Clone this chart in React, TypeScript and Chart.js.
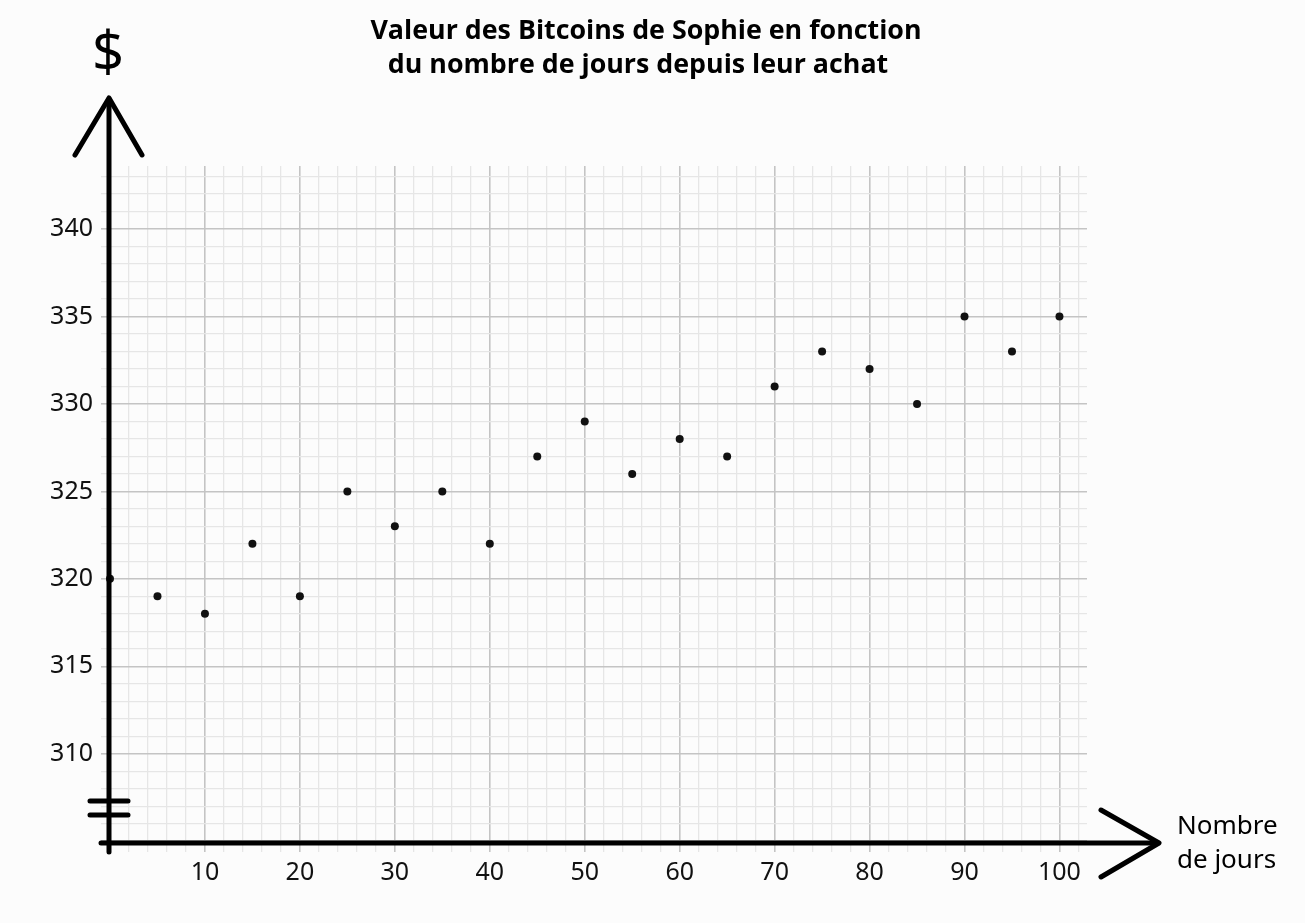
import React, { useEffect, useRef } from "react";
import { Chart, registerables } from "chart.js";

Chart.register(...registerables);

const days = [0, 5, 10, 15, 20, 25, 30, 35, 40, 45, 50, 55, 60, 65, 70, 75, 80, 85, 90, 95, 100];
const values = [320, 319, 318, 322, 319, 325, 323, 325, 322, 327, 329, 326, 328, 327, 331, 333, 332, 330, 335, 333, 335];
const xTickValues = [0, 2, 4, 6, 8, 10, 12, 14, 16, 18, 20, 22, 24, 26, 28, 30, 32, 34, 36, 38, 40, 42, 44, 46, 48, 50, 52, 54, 56, 58, 60, 62, 64, 66, 68, 70, 72, 74, 76, 78, 80, 82, 84, 86, 88, 90, 92, 94, 96, 98, 100, 102];
const yTickValues = [305, 306, 307, 308, 309, 310, 311, 312, 313, 314, 315, 316, 317, 318, 319, 320, 321, 322, 323, 324, 325, 326, 327, 328, 329, 330, 331, 332, 333, 334, 335, 336, 337, 338, 339, 340, 341, 342, 343];
const xLabelValues = [10, 20, 30, 40, 50, 60, 70, 80, 90, 100];
const yLabelValues = [310, 315, 320, 325, 330, 335, 340];
const titleLines = ["Valeur des Bitcoins de Sophie en fonction", "du nombre de jours depuis leur achat"];
const yAxisTitle = "$";
const xAxisTitleLines = ["Nombre", "de jours"];

const FONT = "'Noto Sans', 'Open Sans', sans-serif";

const decorPlugin = {
  id: "decor",
  beforeDraw(chart: any) {
    const ctx = chart.ctx;
    ctx.save();
    ctx.fillStyle = "#fcfcfc";
    ctx.fillRect(0, 0, chart.width, chart.height);
    ctx.restore();
  },
  afterDraw(chart: any) {
    const ctx = chart.ctx;
    const xs = chart.scales.x;
    const ax = xs.getPixelForValue(0) - 1;
    const ay = chart.chartArea.bottom;
    ctx.save();
    ctx.strokeStyle = "#000";
    ctx.lineCap = "round";
    ctx.lineJoin = "round";
    ctx.lineWidth = 5;
    // y axis
    ctx.beginPath();
    ctx.moveTo(ax, 99);
    ctx.lineTo(ax, ay + 9);
    ctx.stroke();
    // y arrow
    ctx.beginPath();
    ctx.moveTo(ax - 34, 155);
    ctx.lineTo(ax, 98);
    ctx.lineTo(ax + 33, 155);
    ctx.stroke();
    // x axis
    ctx.beginPath();
    ctx.moveTo(ax - 8, ay);
    ctx.lineTo(1158, ay);
    ctx.stroke();
    // x arrow
    ctx.beginPath();
    ctx.moveTo(1101, ay - 33);
    ctx.lineTo(1159, ay);
    ctx.lineTo(1101, ay + 34);
    ctx.stroke();
    // axis break
    ctx.beginPath();
    ctx.moveTo(ax - 19, ay - 42);
    ctx.lineTo(ax + 19, ay - 42);
    ctx.moveTo(ax - 19, ay - 28);
    ctx.lineTo(ax + 19, ay - 28);
    ctx.stroke();

    // texts
    ctx.fillStyle = "#000";
    ctx.textAlign = "center";
    ctx.textBaseline = "alphabetic";
    ctx.font = `bold 26.8px 'Open Sans', ${FONT}`;
    ctx.fillText(titleLines[0], 646, 39);
    ctx.fillText(titleLines[1], 638, 73);

    ctx.font = `56px ${FONT}`;
    ctx.fillText(yAxisTitle, ax - 1, 72);

    ctx.textAlign = "left";
    ctx.font = `26px ${FONT}`;
    ctx.fillText(xAxisTitleLines[0], 1177, 834);
    ctx.fillText(xAxisTitleLines[1], 1177, 868);
    ctx.restore();
  },
};

export default function App() {
  const ref = useRef<HTMLCanvasElement | null>(null);
  useEffect(() => {
    if (!ref.current) return;
    const chart = new Chart(ref.current, {
      type: "scatter",
      data: {
        datasets: [
          {
            data: days.map((d, i) => ({ x: d, y: values[i] })),
            backgroundColor: "#111",
            borderColor: "#111",
            borderWidth: 0,
            pointRadius: 4,
          },
        ],
      },
      options: {
        animation: false,
        responsive: false,
        devicePixelRatio: 1,
        clip: false,
        layout: { padding: { top: 166, right: 218, left: 0, bottom: 0 } },
        plugins: { legend: { display: false }, tooltip: { enabled: false }, title: { display: false } },
        scales: {
          x: {
            type: "linear",
            min: 0,
            max: 102.9,
            afterBuildTicks: (s: any) => {
              s.ticks = xTickValues.map((v) => ({ value: v }));
            },
            afterFit: (s: any) => {
              s.height = 80;
            },
            border: { display: false },
            grid: {
              drawTicks: true,
              tickLength: 9,
              color: (c: any) => (c.tick && c.tick.value % 10 === 0 ? "#c4c4c4" : "#e6e6e6"),
              lineWidth: (c: any) => (c.tick && c.tick.value % 10 === 0 ? 1.6 : 1.3),
            },
            ticks: {
              autoSkip: false,
              maxRotation: 0,
              padding: 6,
              color: "#111",
              font: { family: FONT, size: 25 },
              callback: (v: any) => (xLabelValues.includes(Number(v)) ? String(v) : ""),
            },
          },
          y: {
            type: "linear",
            min: 304.9,
            max: 343.6,
            afterBuildTicks: (s: any) => {
              s.ticks = yTickValues.map((v) => ({ value: v }));
            },
            afterFit: (s: any) => {
              s.width = 110;
            },
            border: { display: false },
            grid: {
              drawTicks: true,
              tickLength: 9,
              color: (c: any) => (c.tick && c.tick.value % 5 === 0 ? "#c4c4c4" : "#e6e6e6"),
              lineWidth: (c: any) => (c.tick && c.tick.value % 5 === 0 ? 1.6 : 1.3),
            },
            ticks: {
              autoSkip: false,
              padding: 8,
              color: "#111",
              font: { family: FONT, size: 25 },
              callback: (v: any) => (yLabelValues.includes(Number(v)) ? String(v) : ""),
            },
          },
        },
      },
      plugins: [decorPlugin],
    });
    return () => chart.destroy();
  }, []);
  return (
    <div style={{ position: "absolute", left: 0, top: 0, width: 1305, height: 923, background: "#fcfcfc" }}>
      <canvas ref={ref} width={1305} height={923} style={{ display: "block", width: 1305, height: 923 }} />
    </div>
  );
}
